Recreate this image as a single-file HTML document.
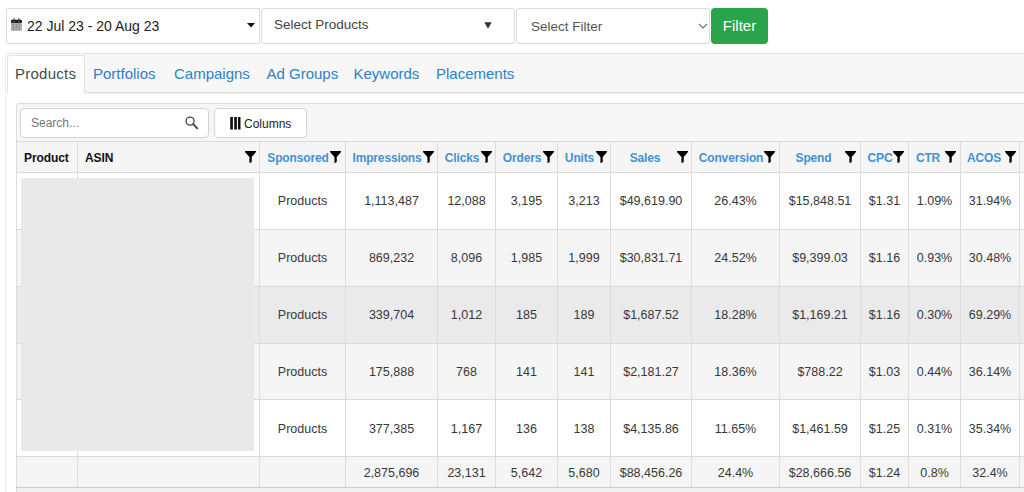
<!DOCTYPE html>
<html><head><meta charset="utf-8">
<style>
html,body{margin:0;padding:0;}
body{width:1024px;height:492px;overflow:hidden;position:relative;background:#fff;font-family:"Liberation Sans",sans-serif;color:#333;}
.abs{position:absolute;}
.hl{position:absolute;left:16px;width:1010px;height:1px;background:#d9d9d9;}
.vl{position:absolute;top:141px;width:1px;height:346px;background:#dcdcdc;}
.ht{position:absolute;font-size:12px;font-weight:bold;line-height:14px;white-space:nowrap;letter-spacing:-0.1px;}
.htc{position:absolute;width:120px;text-align:center;font-size:12px;font-weight:bold;line-height:14px;color:#4590d2;white-space:nowrap;letter-spacing:-0.15px;}
.bt{position:absolute;width:120px;text-align:center;font-size:12.5px;line-height:16px;color:#383838;white-space:nowrap;}
.fw{position:absolute;width:12px;height:12px;}
.fi{display:block;width:11.2px;height:12.2px;fill:#000;}
.box{position:absolute;box-sizing:border-box;border:1px solid #dcdcdc;border-radius:3px;background:#fff;}
</style></head><body>
<!-- top controls -->
<div class="box" style="left:6px;top:8px;width:254px;height:36px;border-radius:2px 0 0 2px"></div>
<svg class="abs" style="left:11px;top:18px" width="11" height="13" viewBox="0 0 11 13"><rect x="2.4" y="0.2" width="1.6" height="2.6" fill="#777"/><rect x="7" y="0.2" width="1.6" height="2.6" fill="#777"/><rect x="0" y="1.8" width="11" height="3.1" rx="0.9" fill="#1c1c1c"/><circle cx="3.2" cy="3.4" r="0.7" fill="#888"/><circle cx="7.8" cy="3.4" r="0.7" fill="#888"/><rect x="0" y="4.9" width="11" height="7.9" fill="#ababab"/><g fill="#8e8e8e"><rect x="2" y="6.2" width="1.3" height="1.3"/><rect x="4.85" y="6.2" width="1.3" height="1.3"/><rect x="7.7" y="6.2" width="1.3" height="1.3"/><rect x="2" y="8.4" width="1.3" height="1.3"/><rect x="4.85" y="8.4" width="1.3" height="1.3"/><rect x="7.7" y="8.4" width="1.3" height="1.3"/><rect x="2" y="10.6" width="1.3" height="1.3"/><rect x="4.85" y="10.6" width="1.3" height="1.3"/><rect x="7.7" y="10.6" width="1.3" height="1.3"/></g></svg>
<div class="abs" style="left:27px;top:18px;font-size:14px;line-height:16px;color:#222;white-space:nowrap">22 Jul 23 - 20 Aug 23</div>
<svg class="abs" style="left:247px;top:23px" width="8" height="4.5" viewBox="0 0 8 4.5"><path d="M0 0H8L4 4.5z" fill="#111"/></svg>

<div class="box" style="left:261px;top:8px;width:254px;height:36px;"></div>
<div class="abs" style="left:274px;top:17px;font-size:13.5px;line-height:16px;color:#444;white-space:nowrap">Select Products</div>
<svg class="abs" style="left:484px;top:22px" width="8" height="7" viewBox="0 0 8 7"><path d="M0.3 0.3H7.7L4 6.8z" fill="#333"/></svg>

<div class="box" style="left:516px;top:8px;width:194px;height:36px;"></div>
<div class="abs" style="left:531px;top:19px;font-size:13.5px;line-height:16px;color:#555;white-space:nowrap">Select Filter</div>
<svg class="abs" style="left:698px;top:23px" width="10" height="6" viewBox="0 0 10 6"><path d="M1 1L5 5L9 1" stroke="#6e6e6e" stroke-width="1.1" fill="none"/></svg>

<div class="abs" style="left:711px;top:8px;width:57px;height:36px;background:#2aa44a;border-radius:4px;"></div>
<div class="abs" style="left:711px;top:17px;width:57px;text-align:center;font-size:15px;line-height:18px;color:#fff">Filter</div>

<!-- tab container -->
<div class="abs" style="left:5px;top:53px;width:1030px;height:450px;box-sizing:border-box;border:1px solid #e2e2e2;border-left-color:#ededed;border-radius:4px;background:#fff"></div>
<div class="abs" style="left:7px;top:55px;width:78px;height:39px;box-sizing:border-box;background:#fff;border:1px solid #e2e2e2;border-bottom:none;border-radius:3px 3px 0 0"></div>
<div class="abs" style="left:84px;top:54px;width:960px;height:39px;box-sizing:border-box;background:#f7f7f7;border-left:1px solid #e2e2e2;border-bottom:1px solid #dedede;border-bottom-left-radius:4px"></div>
<div class="abs" style="left:88px;top:93px;width:950px;height:1px;background:#efefef"></div>
<div class="abs" style="left:15px;top:65px;font-size:15px;line-height:18px;color:#4a4a4a;white-space:nowrap;letter-spacing:0.25px">Products</div>
<div class="abs" style="left:93px;top:65px;font-size:15px;line-height:18px;color:#2f80c5;white-space:nowrap">Portfolios</div>
<div class="abs" style="left:174px;top:65px;font-size:15px;line-height:18px;color:#2f80c5;white-space:nowrap">Campaigns</div>
<div class="abs" style="left:266.5px;top:65px;font-size:15px;line-height:18px;color:#2f80c5;white-space:nowrap">Ad Groups</div>
<div class="abs" style="left:353.5px;top:65px;font-size:15px;line-height:18px;color:#2f80c5;white-space:nowrap">Keywords</div>
<div class="abs" style="left:436px;top:65px;font-size:15px;line-height:18px;color:#2f80c5;white-space:nowrap">Placements</div>

<!-- card -->
<div class="abs" style="left:16px;top:103px;width:1020px;height:400px;box-sizing:border-box;border:1px solid #dcdcdc;border-radius:3px;background:#f6f6f6"></div>
<div class="box" style="left:20px;top:108px;width:189px;height:30px;border-color:#d4d4d4;border-radius:4px"></div>
<div class="abs" style="left:31px;top:116px;font-size:12px;line-height:14px;color:#777;white-space:nowrap">Search...</div>
<svg class="abs" style="left:185px;top:116px" width="14" height="14" viewBox="0 0 14 14"><circle cx="5.1" cy="5.1" r="4" stroke="#444" stroke-width="1.3" fill="none"/><path d="M8.2 8.2L12.3 12.3" stroke="#444" stroke-width="1.9" stroke-linecap="round"/></svg>
<div class="box" style="left:214px;top:108px;width:93px;height:30px;border-color:#d4d4d4;border-radius:4px"></div>
<svg class="abs" style="left:230px;top:117px" width="11" height="13" viewBox="0 0 11 13"><rect x="0.2" y="0" width="2.7" height="12.5" fill="#111"/><rect x="4.2" y="0" width="2.7" height="12.5" fill="#111"/><rect x="8" y="0" width="2.5" height="12.5" fill="#111"/></svg>
<div class="abs" style="left:244px;top:117px;font-size:12px;line-height:14px;color:#222;white-space:nowrap">Columns</div>

<div class="abs" style="left:17px;top:173px;width:1010px;height:56px;background:#ffffff"></div>
<div class="abs" style="left:17px;top:230px;width:1010px;height:56px;background:#f5f5f5"></div>
<div class="abs" style="left:17px;top:287px;width:1010px;height:56px;background:#eaeaea"></div>
<div class="abs" style="left:17px;top:344px;width:1010px;height:55px;background:#f5f5f5"></div>
<div class="abs" style="left:17px;top:400px;width:1010px;height:56px;background:#ffffff"></div>
<div class="abs" style="left:17px;top:457px;width:1010px;height:30px;background:#f5f5f5"></div>
<div class="abs" style="left:17px;top:142px;width:1010px;height:30px;background:#f5f5f5"></div>
<div class="abs" style="left:17px;top:488px;width:1010px;height:10px;background:#f0f0f0"></div>
<div class="hl" style="top:141px"></div>
<div class="hl" style="top:172px"></div>
<div class="hl" style="top:229px"></div>
<div class="hl" style="top:286px"></div>
<div class="hl" style="top:343px"></div>
<div class="hl" style="top:399px"></div>
<div class="hl" style="top:456px"></div>
<div class="hl" style="top:487px;background:#cccccc"></div>
<div class="vl" style="left:77px"></div>
<div class="vl" style="left:259px"></div>
<div class="vl" style="left:345px"></div>
<div class="vl" style="left:437px"></div>
<div class="vl" style="left:495px"></div>
<div class="vl" style="left:557px"></div>
<div class="vl" style="left:610px"></div>
<div class="vl" style="left:691px"></div>
<div class="vl" style="left:779px"></div>
<div class="vl" style="left:860px"></div>
<div class="vl" style="left:908px"></div>
<div class="vl" style="left:960px"></div>
<div class="vl" style="left:1019px"></div>
<div class="abs" style="left:21px;top:178px;width:233px;height:273px;background:#e9e9e9"></div>
<div class="ht" style="left:24px;top:151px;color:#111">Product</div>
<div class="ht" style="left:85px;top:151px;color:#111">ASIN</div>
<div class="fw" style="left:245px;top:150.85px"><svg class="fi" viewBox="0 0 11.2 12.2"><path d="M0 0.2Q0 0 0.3 0H10.9Q11.2 0 11.2 0.2V0.9L6.75 5.9V10.9L4.45 12.2V5.9L0 0.9Z"/></svg></div>
<div class="htc" style="left:238px;top:151px">Sponsored</div>
<div class="fw" style="left:330px;top:150.85px"><svg class="fi" viewBox="0 0 11.2 12.2"><path d="M0 0.2Q0 0 0.3 0H10.9Q11.2 0 11.2 0.2V0.9L6.75 5.9V10.9L4.45 12.2V5.9L0 0.9Z"/></svg></div>
<div class="htc" style="left:327px;top:151px">Impressions</div>
<div class="fw" style="left:422.5px;top:150.85px"><svg class="fi" viewBox="0 0 11.2 12.2"><path d="M0 0.2Q0 0 0.3 0H10.9Q11.2 0 11.2 0.2V0.9L6.75 5.9V10.9L4.45 12.2V5.9L0 0.9Z"/></svg></div>
<div class="htc" style="left:402px;top:151px">Clicks</div>
<div class="fw" style="left:481px;top:150.85px"><svg class="fi" viewBox="0 0 11.2 12.2"><path d="M0 0.2Q0 0 0.3 0H10.9Q11.2 0 11.2 0.2V0.9L6.75 5.9V10.9L4.45 12.2V5.9L0 0.9Z"/></svg></div>
<div class="htc" style="left:462px;top:151px">Orders</div>
<div class="fw" style="left:543.2px;top:150.85px"><svg class="fi" viewBox="0 0 11.2 12.2"><path d="M0 0.2Q0 0 0.3 0H10.9Q11.2 0 11.2 0.2V0.9L6.75 5.9V10.9L4.45 12.2V5.9L0 0.9Z"/></svg></div>
<div class="htc" style="left:519.5px;top:151px">Units</div>
<div class="fw" style="left:595.5px;top:150.85px"><svg class="fi" viewBox="0 0 11.2 12.2"><path d="M0 0.2Q0 0 0.3 0H10.9Q11.2 0 11.2 0.2V0.9L6.75 5.9V10.9L4.45 12.2V5.9L0 0.9Z"/></svg></div>
<div class="htc" style="left:585px;top:151px">Sales</div>
<div class="fw" style="left:676.5px;top:150.85px"><svg class="fi" viewBox="0 0 11.2 12.2"><path d="M0 0.2Q0 0 0.3 0H10.9Q11.2 0 11.2 0.2V0.9L6.75 5.9V10.9L4.45 12.2V5.9L0 0.9Z"/></svg></div>
<div class="htc" style="left:671px;top:151px">Conversion</div>
<div class="fw" style="left:764px;top:150.85px"><svg class="fi" viewBox="0 0 11.2 12.2"><path d="M0 0.2Q0 0 0.3 0H10.9Q11.2 0 11.2 0.2V0.9L6.75 5.9V10.9L4.45 12.2V5.9L0 0.9Z"/></svg></div>
<div class="htc" style="left:753.5px;top:151px">Spend</div>
<div class="fw" style="left:844.5px;top:150.85px"><svg class="fi" viewBox="0 0 11.2 12.2"><path d="M0 0.2Q0 0 0.3 0H10.9Q11.2 0 11.2 0.2V0.9L6.75 5.9V10.9L4.45 12.2V5.9L0 0.9Z"/></svg></div>
<div class="htc" style="left:820px;top:151px">CPC</div>
<div class="fw" style="left:893px;top:150.85px"><svg class="fi" viewBox="0 0 11.2 12.2"><path d="M0 0.2Q0 0 0.3 0H10.9Q11.2 0 11.2 0.2V0.9L6.75 5.9V10.9L4.45 12.2V5.9L0 0.9Z"/></svg></div>
<div class="htc" style="left:868px;top:151px">CTR</div>
<div class="fw" style="left:945px;top:150.85px"><svg class="fi" viewBox="0 0 11.2 12.2"><path d="M0 0.2Q0 0 0.3 0H10.9Q11.2 0 11.2 0.2V0.9L6.75 5.9V10.9L4.45 12.2V5.9L0 0.9Z"/></svg></div>
<div class="htc" style="left:924px;top:151px">ACOS</div>
<div class="fw" style="left:1004.5px;top:150.85px"><svg class="fi" viewBox="0 0 11.2 12.2"><path d="M0 0.2Q0 0 0.3 0H10.9Q11.2 0 11.2 0.2V0.9L6.75 5.9V10.9L4.45 12.2V5.9L0 0.9Z"/></svg></div>
<div class="bt" style="left:242.5px;top:192.8px">Products</div>
<div class="bt" style="left:331.5px;top:192.8px">1,113,487</div>
<div class="bt" style="left:406.5px;top:192.8px">12,088</div>
<div class="bt" style="left:466.5px;top:192.8px">3,195</div>
<div class="bt" style="left:524.0px;top:192.8px">3,213</div>
<div class="bt" style="left:591.0px;top:192.8px">$49,619.90</div>
<div class="bt" style="left:675.5px;top:192.8px">26.43%</div>
<div class="bt" style="left:760.0px;top:192.8px">$15,848.51</div>
<div class="bt" style="left:824.5px;top:192.8px">$1.31</div>
<div class="bt" style="left:874.5px;top:192.8px">1.09%</div>
<div class="bt" style="left:930.0px;top:192.8px">31.94%</div>
<div class="bt" style="left:242.5px;top:250.0px">Products</div>
<div class="bt" style="left:331.5px;top:250.0px">869,232</div>
<div class="bt" style="left:406.5px;top:250.0px">8,096</div>
<div class="bt" style="left:466.5px;top:250.0px">1,985</div>
<div class="bt" style="left:524.0px;top:250.0px">1,999</div>
<div class="bt" style="left:591.0px;top:250.0px">$30,831.71</div>
<div class="bt" style="left:675.5px;top:250.0px">24.52%</div>
<div class="bt" style="left:760.0px;top:250.0px">$9,399.03</div>
<div class="bt" style="left:824.5px;top:250.0px">$1.16</div>
<div class="bt" style="left:874.5px;top:250.0px">0.93%</div>
<div class="bt" style="left:930.0px;top:250.0px">30.48%</div>
<div class="bt" style="left:242.5px;top:307.0px">Products</div>
<div class="bt" style="left:331.5px;top:307.0px">339,704</div>
<div class="bt" style="left:406.5px;top:307.0px">1,012</div>
<div class="bt" style="left:466.5px;top:307.0px">185</div>
<div class="bt" style="left:524.0px;top:307.0px">189</div>
<div class="bt" style="left:591.0px;top:307.0px">$1,687.52</div>
<div class="bt" style="left:675.5px;top:307.0px">18.28%</div>
<div class="bt" style="left:760.0px;top:307.0px">$1,169.21</div>
<div class="bt" style="left:824.5px;top:307.0px">$1.16</div>
<div class="bt" style="left:874.5px;top:307.0px">0.30%</div>
<div class="bt" style="left:930.0px;top:307.0px">69.29%</div>
<div class="bt" style="left:242.5px;top:364.0px">Products</div>
<div class="bt" style="left:331.5px;top:364.0px">175,888</div>
<div class="bt" style="left:406.5px;top:364.0px">768</div>
<div class="bt" style="left:466.5px;top:364.0px">141</div>
<div class="bt" style="left:524.0px;top:364.0px">141</div>
<div class="bt" style="left:591.0px;top:364.0px">$2,181.27</div>
<div class="bt" style="left:675.5px;top:364.0px">18.36%</div>
<div class="bt" style="left:760.0px;top:364.0px">$788.22</div>
<div class="bt" style="left:824.5px;top:364.0px">$1.03</div>
<div class="bt" style="left:874.5px;top:364.0px">0.44%</div>
<div class="bt" style="left:930.0px;top:364.0px">36.14%</div>
<div class="bt" style="left:242.5px;top:420.5px">Products</div>
<div class="bt" style="left:331.5px;top:420.5px">377,385</div>
<div class="bt" style="left:406.5px;top:420.5px">1,167</div>
<div class="bt" style="left:466.5px;top:420.5px">136</div>
<div class="bt" style="left:524.0px;top:420.5px">138</div>
<div class="bt" style="left:591.0px;top:420.5px">$4,135.86</div>
<div class="bt" style="left:675.5px;top:420.5px">11.65%</div>
<div class="bt" style="left:760.0px;top:420.5px">$1,461.59</div>
<div class="bt" style="left:824.5px;top:420.5px">$1.25</div>
<div class="bt" style="left:874.5px;top:420.5px">0.31%</div>
<div class="bt" style="left:930.0px;top:420.5px">35.34%</div>
<div class="bt" style="left:331.5px;top:464.5px">2,875,696</div>
<div class="bt" style="left:406.5px;top:464.5px">23,131</div>
<div class="bt" style="left:466.5px;top:464.5px">5,642</div>
<div class="bt" style="left:524.0px;top:464.5px">5,680</div>
<div class="bt" style="left:591.0px;top:464.5px">$88,456.26</div>
<div class="bt" style="left:675.5px;top:464.5px">24.4%</div>
<div class="bt" style="left:760.0px;top:464.5px">$28,666.56</div>
<div class="bt" style="left:824.5px;top:464.5px">$1.24</div>
<div class="bt" style="left:874.5px;top:464.5px">0.8%</div>
<div class="bt" style="left:930.0px;top:464.5px">32.4%</div>
</body></html>
